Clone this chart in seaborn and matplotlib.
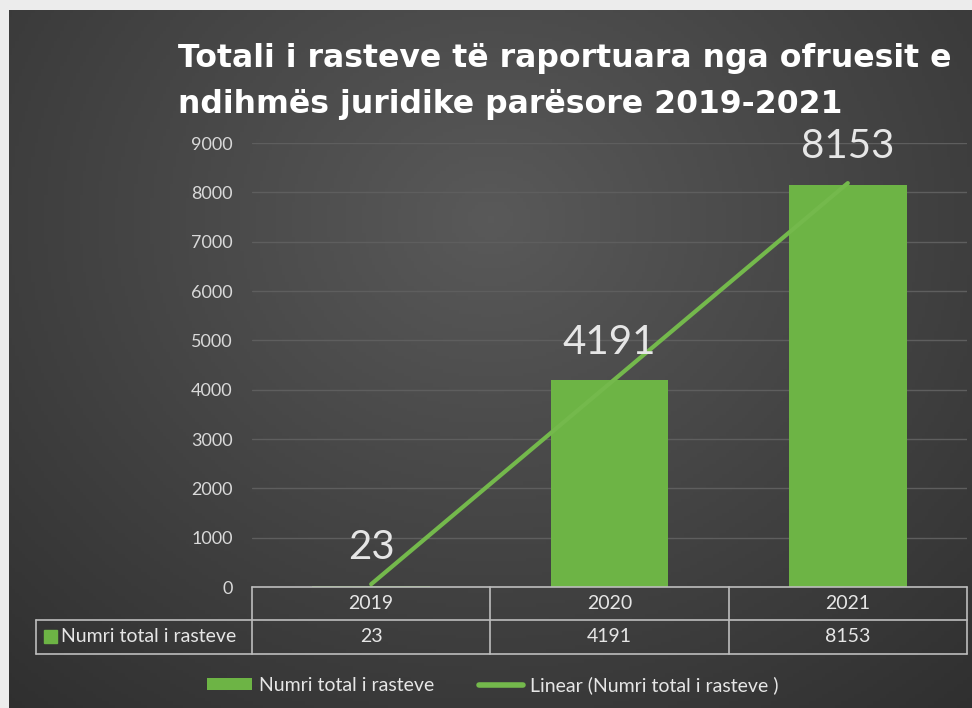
import numpy as np
import pandas as pd
import matplotlib
matplotlib.use("Agg")
import matplotlib.pyplot as plt
import seaborn as sns
from matplotlib.patches import Rectangle, Patch
from matplotlib.lines import Line2D
from matplotlib.transforms import blended_transform_factory

years = ["2019", "2020", "2021"]
values = [23, 4191, 8153]
series_name = "Numri total i rasteve"
trend_name = "Linear (Numri total i rasteve )"
title_lines = ["Totali i rasteve të raportuara nga ofruesit e",
               "ndihmës juridike parësore 2019-2021"]
yticks = list(range(0, 10000, 1000))

GREEN = "#6db445"
LINE_GREEN = "#74b94c"
TXT = "#e6e6e6"
GRIDC = "#bdbdbd"

sns.set_theme(style="dark")
plt.rcParams['font.family'] = ['Lato', 'DejaVu Sans']

W, H = 972, 708
fig = plt.figure(figsize=(W / 100, H / 100), dpi=100, facecolor="#ececec")

# dark background with soft radial gradient
bg = fig.add_axes([9 / W, 0, 1 - 9 / W, 1 - 10 / H])
yy, xx = np.mgrid[0:1:200j, 0:1:300j]
r = np.sqrt(((xx - 0.5) / 0.75) ** 2 + ((yy - 0.3) / 0.9) ** 2)
shade = np.clip(0.35 - 0.16 * r, 0.18, 0.35)
bg.imshow(np.dstack([shade] * 3), aspect="auto", extent=[0, 1, 0, 1], origin="upper")
bg.set_axis_off()

AX_L, AX_R, AX_T, AX_B = 252, 967, 143, 587
AX_H = AX_B - AX_T
AX_W = AX_R - AX_L
ax = fig.add_axes([AX_L / W, 1 - AX_B / H, AX_W / W, AX_H / H])
ax.set_facecolor("none")

df = pd.DataFrame({"year": years, "value": values})
sns.barplot(data=df, x="year", y="value", color=GREEN, width=0.495, ax=ax,
            saturation=1, edgecolor="none", zorder=2)

df_num = pd.DataFrame({"x": np.arange(len(years)), "value": values})
sns.regplot(data=df_num, x="x", y="value", scatter=False, ci=None, truncate=True,
            line_kws={"color": LINE_GREEN, "lw": 3, "zorder": 3}, ax=ax)

for c in ax.containers:
    ax.bar_label(c, labels=[str(v) for v in values], padding=14, fontsize=29,
                 color=TXT, zorder=4)

ax.set_ylim(0, 9000)
ax.set_xlim(-0.5, 2.5)
ax.set_yticks(yticks)
ax.set_yticklabels([str(t) for t in yticks], color="#d9d9d9", fontsize=13)
ax.tick_params(axis="y", length=0, pad=14)
ax.set_xticks([])
ax.set_xlabel("")
ax.set_ylabel("")
ax.grid(axis="y", color="#5e5e5e", lw=1)
ax.grid(axis="x", visible=False)
for s in ax.spines.values():
    s.set_visible(False)

# data table (Excel style) below the plot area
tr = blended_transform_factory(ax.transData, ax.transAxes)
n = len(years)
col_px = AX_W / n
y0 = 0.0
y1 = -(620 - AX_B) / AX_H
y2 = -(654 - AX_B) / AX_H
xl = -0.5 - (AX_L - 36) / col_px  # left edge of row-label cell in data units
lk = dict(color=GRIDC, lw=1.2, clip_on=False, transform=tr, zorder=5)
ax.plot([-0.5, n - 0.5], [y0, y0], **lk)
ax.plot([xl, n - 0.5], [y1, y1], **lk)
ax.plot([xl, n - 0.5], [y2, y2], **lk)
ax.plot([xl, xl], [y1, y2], **lk)
for b in np.arange(-0.5, n, 1.0):
    ax.plot([b, b], [y0, y2], **lk)
for i, (yr, v) in enumerate(zip(years, values)):
    ax.text(i, (y0 + y1) / 2, yr, transform=tr, ha="center", va="center",
            color=TXT, fontsize=14)
    ax.text(i, (y1 + y2) / 2, str(v), transform=tr, ha="center", va="center",
            color=TXT, fontsize=14)
ax.text(xl + (61 - 36) / col_px, (y1 + y2) / 2, series_name, transform=tr,
        ha="left", va="center", color=TXT, fontsize=14)
fig.patches.append(Rectangle((44 / W, 1 - 643 / H), 13 / W, 13 / H,
                             transform=fig.transFigure, color=GREEN))

for line, base in zip(title_lines, [67, 113]):
    fig.text(178 / W, 1 - base / H, line, ha="left", va="baseline", fontsize=22.7,
             fontweight="bold", color="white", family=["DejaVu Sans"])

handles = [Patch(facecolor=GREEN, edgecolor="none"),
           Line2D([0], [0], color=LINE_GREEN, lw=4)]
leg = fig.legend(handles, [series_name, trend_name], loc="center left",
                 bbox_to_anchor=(207 / W, 1 - 685 / H), ncol=2, frameon=False,
                 borderpad=0, borderaxespad=0,
                 fontsize=14, handlelength=2.3, handleheight=0.55,
                 handletextpad=0.35, columnspacing=2.3)
for t in leg.get_texts():
    t.set_color(TXT)

fig.savefig("out.png", dpi=100, facecolor=fig.get_facecolor())
